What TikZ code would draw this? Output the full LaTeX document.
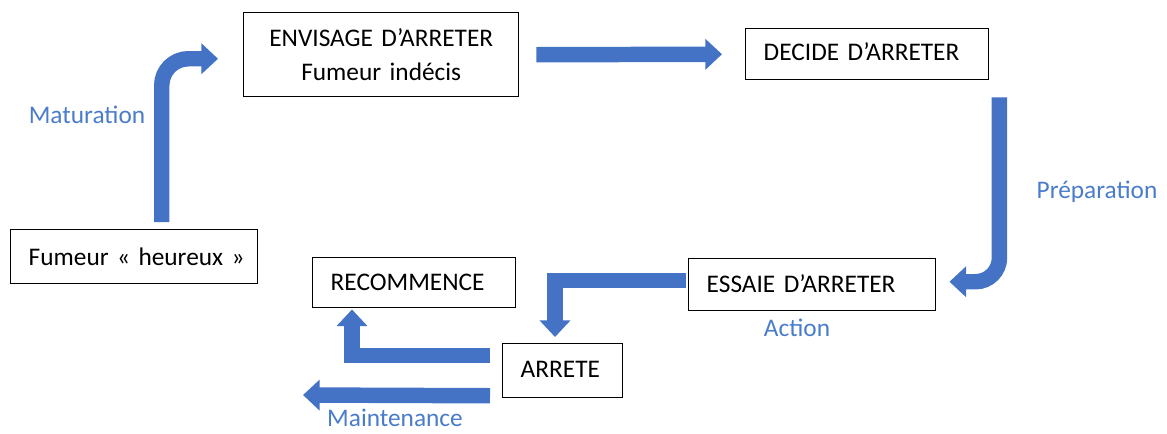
\documentclass[tikz,border=0pt]{standalone}
\usepackage{fontspec}
\setmainfont{Carlito}
\usetikzlibrary{arrows.meta,calc}
\definecolor{arrowblue}{HTML}{4472C4}
\definecolor{labelblue}{HTML}{4A7CCB}
\begin{document}
\begin{tikzpicture}[x=0.75pt,y=-0.75pt,
  box/.style={draw=black, line width=1.1pt, anchor=north west, inner xsep=13.5pt, inner ysep=0pt, font=\fontsize{19}{25.5}\selectfont, align=left},
  flow/.style={draw=arrowblue, line width=11.6pt, -{Triangle[width=22.5pt,length=12.5pt]}},
  lab/.style={text=labelblue, font=\fontsize{19}{23}\selectfont}
]
\useasboundingbox (0,0) rectangle (1167,433);
% boxes
\node[box, align=center, text width=179.25pt, minimum height=63pt] (envisage) at (243,12) {ENVISAGE D’ARRETER\\Fumeur indécis};
\node[box, text width=155.25pt, minimum height=38.25pt] (decide) at (745,28) {\raisebox{2pt}[\height][\depth]{DECIDE D’ARRETER}};
\node[box, text width=158.25pt, minimum height=40.5pt] (fumeur) at (10,229) {\mbox{Fumeur « heureux »}};
\node[box, text width=125.25pt, minimum height=37.5pt] (recommence) at (312,257) {RECOMMENCE};
\node[box, text width=158.25pt, minimum height=39pt] (essaie) at (688,258) {\raisebox{1pt}[\height][\depth]{ESSAIE D’ARRETER}};
\node[box, text width=63pt, minimum height=40.5pt] (arrete) at (502,343) {\raisebox{1pt}[\height][\depth]{ARRETE}};
% connectors
\draw[flow, rounded corners=20pt] ($(fumeur.north)+(27.5,-7)$) |- ($(envisage.west)+(-25,4)$);
\draw[flow] ($(envisage.east)+(17,0)$) -- ($(decide.west)+(-23,0)$);
\draw[flow, rounded corners=18pt] ($(decide.south east)+(10,17)$) |- ($(essaie.east)+(13,-3)$);
\draw[flow] ($(essaie.west)+(-2,-4)$) -| ($(arrete.north west)+(53,-6)$);
\draw[flow] ($(arrete.west)+(-12,-15)$) -| ($(recommence.south west)+(40,1)$);
\coordinate (maintend) at (303,395);
\draw[flow] ($(arrete.west)+(-12,25)$) -- (maintend);
% labels
\node[lab] (lmat) at (87,115) {Maturation};
\node[lab] (lprep) at (1097,192) {Préparation};
\node[lab] (lact) at (797,328) {Action};
\node[lab] (lmaint) at (395,418) {Maintenance};
\end{tikzpicture}
\end{document}
